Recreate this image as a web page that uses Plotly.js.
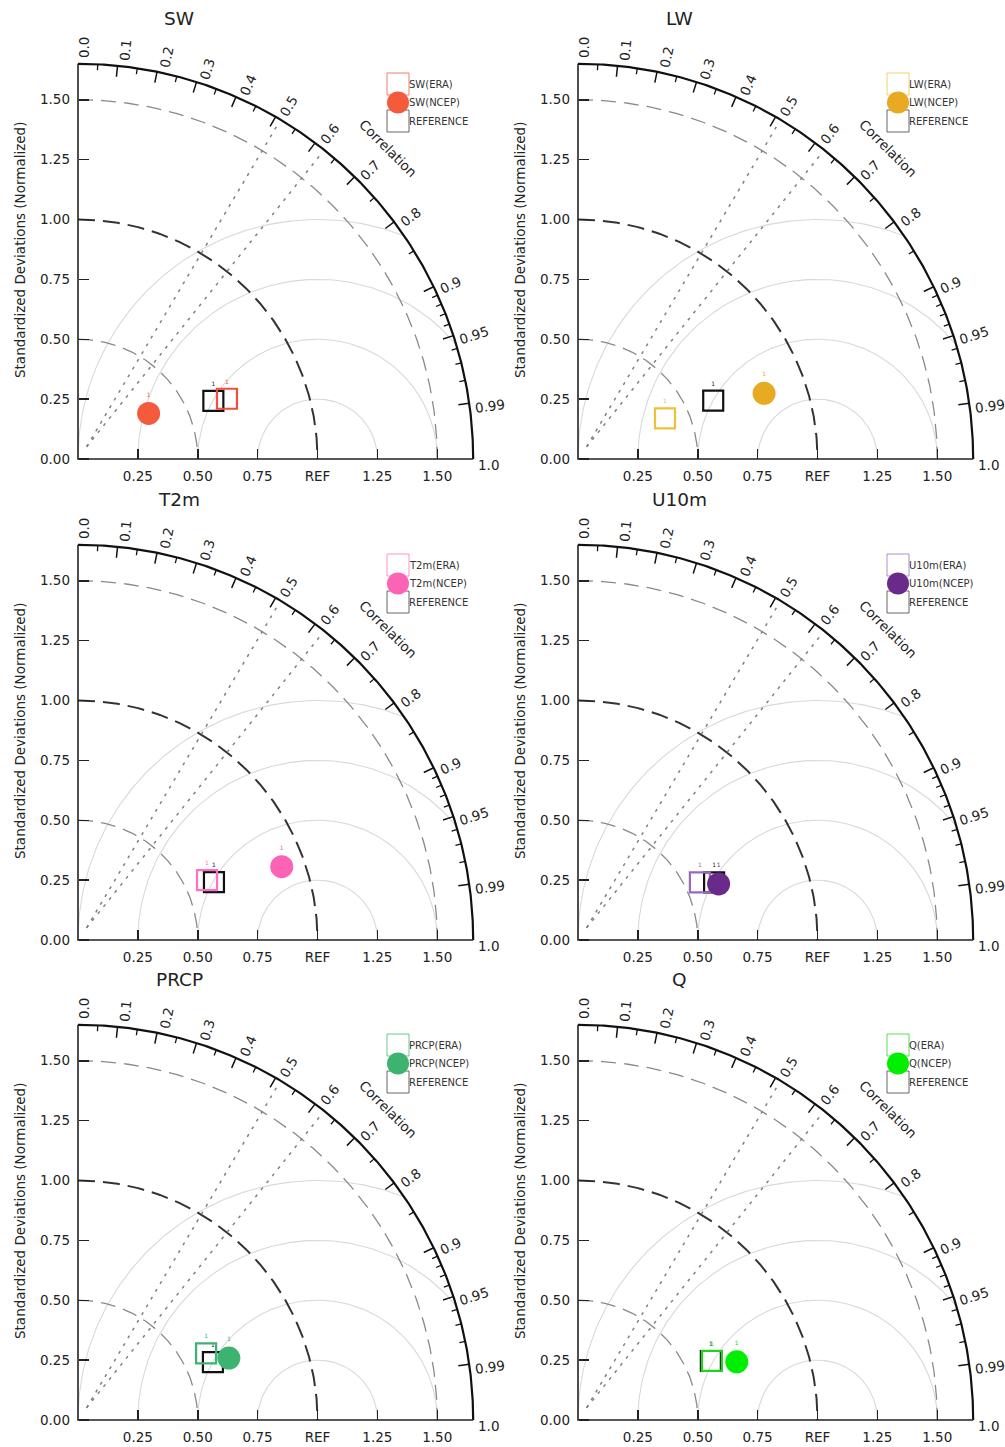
<!DOCTYPE html>
<html><head><meta charset="utf-8">
<script src="https://cdn.plot.ly/plotly-3.0.1.min.js"></script>
<style>html,body{margin:0;padding:0;background:#fff;} #chart{width:1005px;height:1447px;}</style>
</head><body><div id="chart"></div>
<script>
// ---------------- data ----------------
const panelNames = ['SW','LW','T2m','U10m','PRCP','Q'];
const eraStd   = [0.671,0.401,0.594,0.563,0.603,0.611];
const eraCorr  = [0.927,0.906,0.907,0.904,0.887,0.915];
const ncepStd  = [0.351,0.824,0.904,0.632,0.681,0.706];
const ncepCorr = [0.840,0.943,0.941,0.929,0.925,0.939];
const refStd   = [0.615,0.615,0.617,0.617,0.613,0.607];
const refCorr  = [0.919,0.918,0.920,0.921,0.919,0.914];
const eraColor  = ['#f0503c','#f0c03c','#ff6ec7','#9a68bd','#3cb371','#1ed41e'];
const ncepColor = ['#f45a3c','#e8aa22','#fb64b4','#6a2a8c','#3cb371','#00ee00'];
const stdTickVals = [0,0.25,0.5,0.75,1,1.25,1.5];
const stdTickText = ['0.00','0.25','0.50','0.75','1.00','1.25','1.50'];
const xTickVals = [0.25,0.5,0.75,1,1.25,1.5];
const xTickText = ['0.25','0.50','0.75','REF','1.25','1.50'];
const corrLabelVals = [0,0.1,0.2,0.3,0.4,0.5,0.6,0.7,0.8,0.9,0.95,0.99,1.0];
const corrLabelText = ['0.0','0.1','0.2','0.3','0.4','0.5','0.6','0.7','0.8','0.9','0.95','0.99','1.0'];
const corrMajor = [0.1,0.2,0.3,0.4,0.5,0.6,0.7,0.8,0.9,0.95,0.99];
const corrMinor = [0.05,0.15,0.25,0.35,0.45,0.55,0.65,0.75,0.85,0.91,0.92,0.93,0.94,0.96,0.97,0.98];
const stdArcsGray = [0.5,1.5];
const stdArcRef = 1.0;
const rmsRadii = [0.25,0.5,0.75,1.0];
const maxStd = 1.65;
const dotLineCorr = [0.51,0.625];

// ---------------- geometry / style ----------------
const W=1005,H=1447,S=239.5,R=maxStd;
const ox=[78,578,78,578,78,578], oy=[459,459,940,940,1420,1420];
const FONT='DejaVu Sans, Liberation Sans, sans-serif';
const rng=[-0.02,1.72];
const dotStart=[0.036,0.051];
const D2R=Math.PI/180;
function pX(i,x){return (ox[i]+x*S)/W;}
function pY(i,y){return 1-(oy[i]-y*S)/H;}
function arcPts(r,a0,a1,n,cx){cx=cx||0;const xs=[],ys=[];for(let k=0;k<=n;k++){const a=(a0+(a1-a0)*k/n)*D2R;xs.push(cx+r*Math.cos(a));ys.push(r*Math.sin(a));}return [xs,ys];}

const traces=[]; const annotations=[]; const layout={
  width:W,height:H,margin:{l:0,r:0,t:0,b:0},paper_bgcolor:'#fff',plot_bgcolor:'rgba(0,0,0,0)',
  showlegend:false,hovermode:false,font:{family:FONT,color:'#222'}
};

for(let i=0;i<6;i++){
  const sfx=i===0?'':String(i+1);
  const xa='x'+sfx, ya='y'+sfx;
  layout['xaxis'+sfx]={domain:[pX(i,rng[0]),pX(i,rng[1])],range:rng,anchor:'free',position:pY(i,0),
    tickmode:'array',tickvals:xTickVals,ticktext:xTickText,ticks:'inside',ticklen:10,tickwidth:1.5,tickcolor:'#222',
    showgrid:false,zeroline:false,showline:false,fixedrange:true,ticklabelstandoff:7,
    tickfont:{family:FONT,size:13.5,color:'#222'}};
  layout['yaxis'+sfx]={domain:[pY(i,rng[0]),pY(i,rng[1])],range:rng,anchor:'free',position:pX(i,0),
    tickmode:'array',tickvals:stdTickVals,ticktext:stdTickText,ticks:'inside',ticklen:10,tickwidth:1.5,tickcolor:'#222',
    showgrid:false,zeroline:false,showline:false,fixedrange:true,ticklabelstandoff:8,
    tickfont:{family:FONT,size:13.5,color:'#222'}};
  const base={type:'scatter',mode:'lines',xaxis:xa,yaxis:ya,hoverinfo:'skip',showlegend:false};

  // RMS circles centred on REF
  let rx=[],ry=[];
  rmsRadii.forEach(r=>{
    let c=(R*R-1-r*r)/(2*r); let p0=c>=1?0:Math.acos(c)/D2R;
    const [xs,ys]=arcPts(r,p0,180,120,1); rx=rx.concat(xs,[null]); ry=ry.concat(ys,[null]);
  });
  traces.push(Object.assign({},base,{x:rx,y:ry,line:{color:'#d9d9d9',width:1.1}}));

  // gray dashed std arcs
  stdArcsGray.forEach(r=>{
    const [xs,ys]=arcPts(r,90,0,180);
    traces.push(Object.assign({},base,{x:xs,y:ys,line:{color:'#8a8a8a',width:1.3,dash:'15px,8px'}}));
  });
  // reference std arc
  {const [xs,ys]=arcPts(stdArcRef,90,0,180);
   traces.push(Object.assign({},base,{x:xs,y:ys,line:{color:'#333',width:2,dash:'17px,8px'}}));}

  // dotted lines
  dotLineCorr.forEach(c=>{
    const th=Math.acos(c); const dx=Math.cos(th),dy=Math.sin(th);
    const b=dotStart[0]*dx+dotStart[1]*dy; const cc=dotStart[0]**2+dotStart[1]**2-1.635**2;
    const t=-b+Math.sqrt(b*b-cc);
    traces.push(Object.assign({},base,{x:[dotStart[0],dotStart[0]+t*dx],y:[dotStart[1],dotStart[1]+t*dy],
      line:{color:'#808080',width:1.5,dash:'3px,6px'}}));
  });

  // outer arc
  {const [xs,ys]=arcPts(R,90,0,240);
   traces.push(Object.assign({},base,{x:xs,y:ys,line:{color:'#111',width:2.2}}));}
  // axis lines
  traces.push(Object.assign({},base,{x:[0,0,R],y:[R,0,0],line:{color:'#222',width:1.6}}));

  // correlation ticks
  function tickTrace(list,len,w){
    const xs=[],ys=[];
    list.forEach(c=>{const th=Math.acos(c);xs.push((R-len)*Math.cos(th),R*Math.cos(th),null);ys.push((R-len)*Math.sin(th),R*Math.sin(th),null);});
    traces.push(Object.assign({},base,{x:xs,y:ys,line:{color:'#111',width:w}}));
  }
  tickTrace(corrMajor,11/S,1.5);
  tickTrace(corrMinor,6/S,1.3);

  // data markers
  const pts=(s,c)=>({x:s*c,y:s*Math.sqrt(1-c*c)});
  const e=pts(eraStd[i],eraCorr[i]), n=pts(ncepStd[i],ncepCorr[i]), rf=pts(refStd[i],refCorr[i]);
  traces.push({type:'scatter',mode:'markers+text',xaxis:xa,yaxis:ya,x:[rf.x],y:[rf.y],text:['1'],textposition:'top center',
    textfont:{size:6,color:'#222'},cliponaxis:false,hoverinfo:'skip',
    marker:{symbol:'square-open',size:20,color:'#111',line:{width:2.2,color:'#111'}}});
  traces.push({type:'scatter',mode:'markers+text',xaxis:xa,yaxis:ya,x:[e.x],y:[e.y],text:['1'],textposition:'top center',
    textfont:{size:6,color:eraColor[i]},cliponaxis:false,hoverinfo:'skip',
    marker:{symbol:'square-open',size:20,color:eraColor[i],line:{width:2.2,color:eraColor[i]}}});
  traces.push({type:'scatter',mode:'markers+text',xaxis:xa,yaxis:ya,x:[n.x],y:[n.y],text:['1'],textposition:'top center',
    textfont:{size:6,color:ncepColor[i]},cliponaxis:false,hoverinfo:'skip',
    marker:{symbol:'circle',size:23,color:ncepColor[i],line:{width:0}}});

  // legend
  const lgX=320/S, lgY=[375/S,356.5/S,338/S], lgTX=331;
  traces.push({type:'scatter',mode:'markers',xaxis:xa,yaxis:ya,x:[lgX],y:[lgY[0]],cliponaxis:false,hoverinfo:'skip',
    marker:{symbol:'square-open',size:22,color:eraColor[i],opacity:0.75,line:{width:1,color:eraColor[i]}}});
  traces.push({type:'scatter',mode:'markers',xaxis:xa,yaxis:ya,x:[lgX],y:[lgY[2]],cliponaxis:false,hoverinfo:'skip',
    marker:{symbol:'square-open',size:22,color:'#666',line:{width:1,color:'#666'}}});
  traces.push({type:'scatter',mode:'markers',xaxis:xa,yaxis:ya,x:[lgX],y:[lgY[1]],cliponaxis:false,hoverinfo:'skip',
    marker:{symbol:'circle',size:22,color:ncepColor[i],line:{width:0}}});
  const lgText=[panelNames[i]+'(ERA)',panelNames[i]+'(NCEP)','REFERENCE'];
  lgText.forEach((t,k)=>annotations.push({xref:'paper',yref:'paper',x:(ox[i]+lgTX)/W,y:pY(i,lgY[k]),xanchor:'left',yanchor:'middle',
    text:t,showarrow:false,borderpad:0,borderwidth:0,font:{family:FONT,size:10,color:'#333'}}));

  // correlation labels
  corrLabelVals.forEach((c,k)=>{
    const th=Math.acos(c); const t=corrLabelText[k];
    const nd=t.replace('.','').length; const w=(nd*0.636+0.318)*13.5;
    const rc=R+(5+w/2)/S, d=6/S;
    const x=rc*Math.cos(th)+d*Math.sin(th), y=rc*Math.sin(th)-d*Math.cos(th);
    annotations.push({xref:'paper',yref:'paper',x:pX(i,x),y:pY(i,y),xanchor:'center',yanchor:'middle',
      text:t,showarrow:false,textangle:-th/D2R,borderpad:0,borderwidth:0,font:{family:FONT,size:13.5,color:'#222'}});
  });
  {const th=45.1*D2R, r=1.833;
   annotations.push({xref:'paper',yref:'paper',x:pX(i,r*Math.cos(th)),y:pY(i,r*Math.sin(th)),xanchor:'center',yanchor:'middle',
     text:'Correlation',showarrow:false,textangle:45,borderpad:0,borderwidth:0,font:{family:FONT,size:13.5,color:'#222'}});}

  // titles
  annotations.push({xref:'paper',yref:'paper',x:(ox[i]+101)/W,y:1-(oy[i]-441)/H,xanchor:'center',yanchor:'middle',
    text:panelNames[i],showarrow:false,font:{family:FONT,size:18.5,color:'#222'}});
  annotations.push({xref:'paper',yref:'paper',x:(ox[i]-58)/W,y:1-(oy[i]-209)/H,xanchor:'center',yanchor:'middle',
    text:'Standardized Deviations (Normalized)',showarrow:false,textangle:-90,font:{family:FONT,size:13.5,color:'#222'}});
}
layout.annotations=annotations;
Plotly.newPlot('chart',traces,layout,{staticPlot:true,displayModeBar:false});
</script></body></html>
